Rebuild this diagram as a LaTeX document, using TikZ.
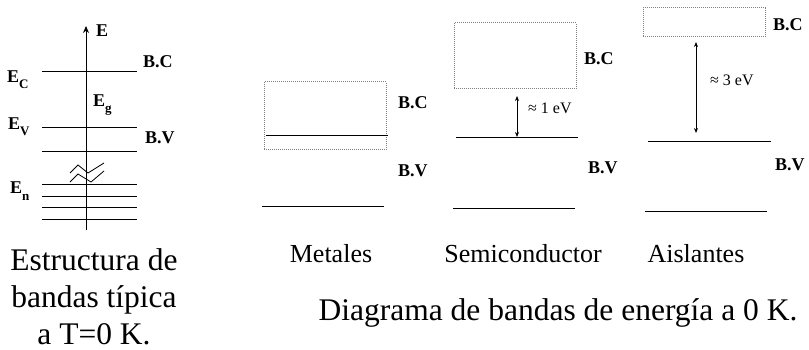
\documentclass[tikz,border=0pt]{standalone}
\usepackage{fontspec}
\setmainfont{Liberation Serif}
\usetikzlibrary{positioning, arrows.meta, calc}
\newcommand{\bandsub}[1]{\raisebox{-0.35em}{\fontsize{13}{13}\selectfont #1}}

\begin{document}
\begin{tikzpicture}[x=1pt, y=-1pt, >={Stealth[length=5pt, width=4pt]},
    level/.style={line width=1pt},
    band/.style={draw=gray, densely dotted, line width=1pt, inner sep=0pt},
    tag/.style={font=\fontsize{18}{20}\selectfont\bfseries, inner sep=0pt, anchor=west},
    gap/.style={font=\fontsize{16}{18}\selectfont, inner sep=0pt, anchor=west},
    title/.style={font=\fontsize{26}{30}\selectfont, inner sep=0pt, anchor=base},
    caption/.style={font=\fontsize{31.5}{37}\selectfont, inner sep=0pt, align=center}]
  \useasboundingbox (0,0) rectangle (809,350);

  % estructura tipica
  \coordinate (axb) at (86,230);
  \coordinate (axt) at (86,26);
  \draw[level, -{Stealth[length=7pt, width=6pt]}] (axb) -- (axt);
  \node[tag] (E) at (96,31) {E};
  \foreach \y in {71.7,128,152,185,197,207,219}
    \draw[level] (42,\y) -- (137,\y);
  \draw[level, line width=0.8pt] (70,173) -- (78,165) -- (88,173) -- (104,163);
  \draw[level, line width=0.8pt] (70,182) -- (78,174) -- (91,182) -- (104,171);
  \node[tag] (Ec) at (7,80) {E\bandsub{C}};
  \node[tag] (Eg) at (93,105) {E\bandsub{g}};
  \node[tag] (Ev) at (8,127) {E\bandsub{V}};
  \node[tag] (En) at (10,191) {E\bandsub{n}};
  \node[tag] (bc0) at (143,62) {B.C};
  \node[tag] (bv0) at (145,138) {B.V};
  \node[caption, anchor=north] (cap0) at (94,248) {Estructura de\\bandas típica\\a T=0 K.};

  % metales
  \node[band, minimum width=122, minimum height=68] (bcM) at (325,116) {};
  \draw[level] (266,136) -- (388,136);
  \draw[level] (262,206) -- (384,206);
  \node[tag] (bc1) at (398,103) {B.C};
  \node[tag] (bv1) at (398,171) {B.V};
  \node[title] (met) at (331,262) {Metales};

  % semiconductor
  \node[band, minimum width=122, minimum height=66] (bcS) at (515,56) {};
  \draw[level] (456,138) -- (578,138);
  \draw[level] (453,208) -- (575,208);
  \coordinate (gS1) at (517,96);
  \coordinate (gS2) at (517,137);
  \draw[level, <->] (gS1) -- (gS2);
  \node[gap] (eS) at (528,108) {≈ 1 eV};
  \node[tag] (bc2) at (584,59) {B.C};
  \node[tag] (bv2) at (588,168) {B.V};
  \node[title] (sem) at (523,262) {Semiconductor};

  % aislantes
  \node[band, minimum width=122, minimum height=29] (bcA) at (704,22.5) {};
  \draw[level] (648,142) -- (771,142);
  \draw[level] (645,211) -- (767,211);
  \coordinate (gA1) at (696,42);
  \coordinate (gA2) at (696,133);
  \draw[level, <->] (gA1) -- (gA2);
  \node[gap] (eA) at (710,80) {≈ 3 eV};
  \node[tag] (bc3) at (773,25) {B.C};
  \node[tag] (bv3) at (775,165) {B.V};
  \node[title] (ais) at (696,262) {Aislantes};

  \node[caption, anchor=base] (cap1) at (558,320) {Diagrama de bandas de energía a 0 K.};
\end{tikzpicture}
\end{document}
